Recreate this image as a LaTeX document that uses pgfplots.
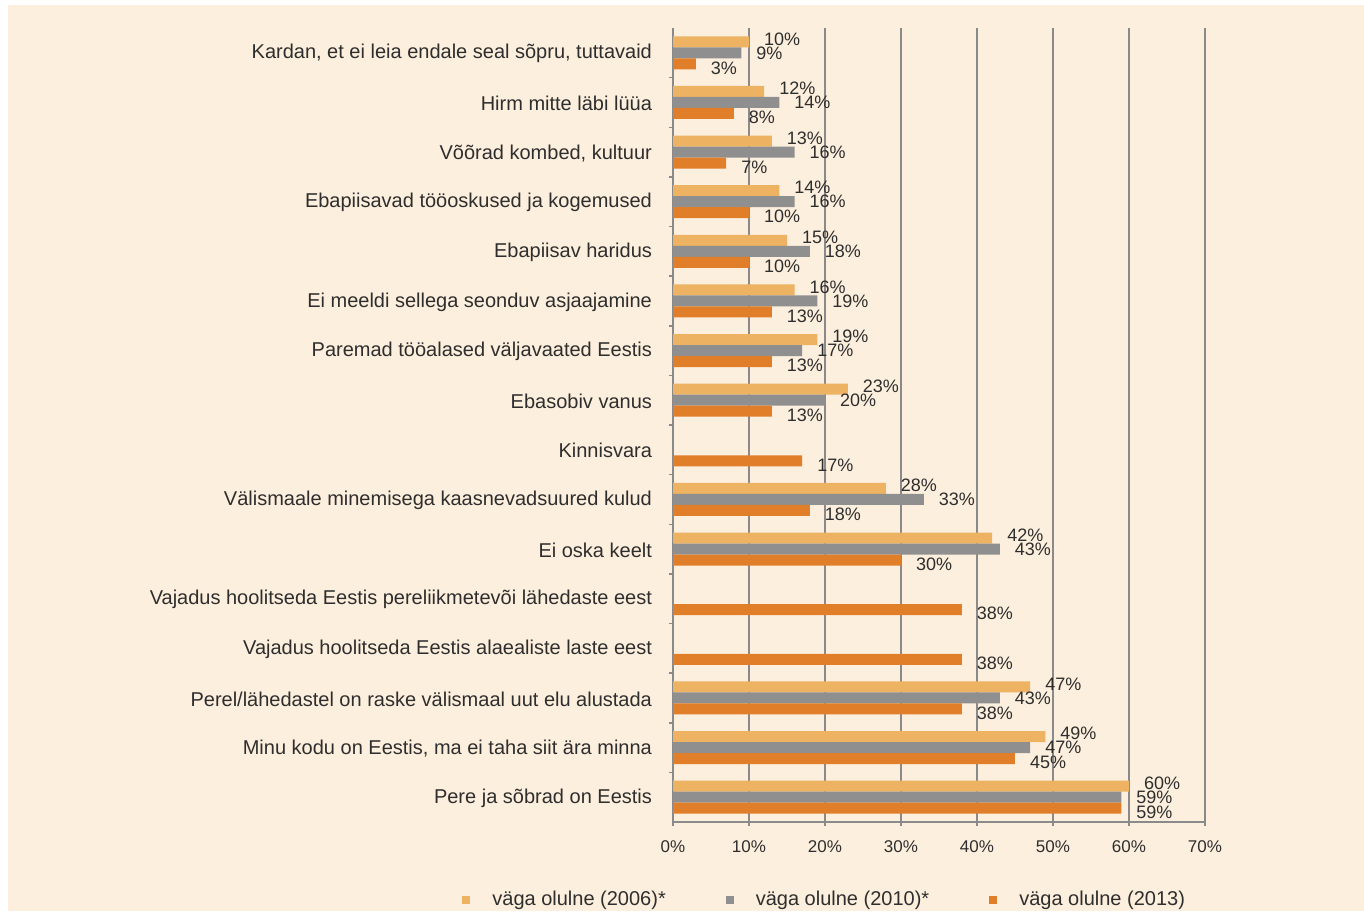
\documentclass[border=0pt]{standalone}
\usepackage{pgfplots}
\pgfplotsset{compat=1.18}
\usepackage{fontspec}
\setmainfont{Liberation Sans}
\definecolor{cream}{HTML}{FDEFDD}
\definecolor{c2006}{HTML}{EDB262}
\definecolor{c2010}{HTML}{8F8F8F}
\definecolor{c2013}{HTML}{E07E2A}
\definecolor{gridc}{HTML}{8A8A8A}
\definecolor{txt}{HTML}{2E2E2E}
\begin{document}
\begin{tikzpicture}
% picture frame, 1px = 0.5pt, origin at the bottom-left corner
\fill[white] (0pt,0pt) rectangle (682pt,455.5pt);
\fill[cream] (4pt,0pt) rectangle (682pt,453pt);
\path[use as bounding box] (0pt,0pt) rectangle (682pt,455.5pt);
\begin{axis}[
    at={(336.5pt,44.5pt)}, anchor=south west,
    scale only axis,
    width=266pt, height=397pt,
    xbar=0pt,
    bar width=5.5pt,
    y dir=reverse,
    xmin=0, xmax=70,
    ymin=-0.5, ymax=15.5,
    xtick={0,10,...,70},
    minor xtick={0,10,...,70},
    ytick={0,...,15},
    minor ytick={0.5,1.5,...,14.5},
    major tick length=0pt,
    minor tick length=2pt,
    tick align=outside,
    tick style={gridc, line width=0.75pt},
    yticklabels={
        {Kardan, et ei leia endale seal sõpru, tuttavaid},
        Hirm mitte läbi lüüa,
        {Võõrad kombed, kultuur},
        Ebapiisavad tööoskused ja kogemused,
        Ebapiisav haridus,
        Ei meeldi sellega seonduv asjaajamine,
        Paremad tööalased väljavaated Eestis,
        Ebasobiv vanus,
        Kinnisvara,
        Välismaale minemisega kaasnevadsuured kulud,
        Ei oska keelt,
        Vajadus hoolitseda Eestis pereliikmetevõi lähedaste eest,
        Vajadus hoolitseda Eestis alaealiste laste eest,
        Perel/lähedastel on raske välismaal uut elu alustada,
        {Minu kodu on Eestis, ma ei taha siit ära minna},
        Pere ja sõbrad on Eestis},
    yticklabel style={font=\fontsize{10}{11}\selectfont, text=txt, xshift=-7pt, yshift=-0.5pt},
    xticklabel={\pgfmathprintnumber{\tick}\%},
    xticklabel style={font=\fontsize{8.5}{10}\selectfont, text=txt, yshift=-6pt},
    /pgf/number format/assume math mode=true,
    xmajorgrids,
    grid style={gridc, line width=0.75pt},
    axis x line*=bottom,
    axis y line*=left,
    axis line style={gridc, line width=0.75pt},
    point meta=x,
    nodes near coords={\pgfmathprintnumber{\pgfplotspointmeta}\%},
    nodes near coords style={font=\fontsize{9}{10}\selectfont, text=txt, anchor=west, xshift=4pt},
    legend columns=3,
    legend style={at={(0.287,-0.098)}, anchor=center, draw=none, fill=none,
        font=\fontsize{10}{11}\selectfont, text=txt,
        /tikz/every odd column/.append style={column sep=9pt},
        /tikz/every even column/.append style={column sep=28pt}},
    legend image code/.code={\fill[#1,draw=none] (0pt,-2pt) rectangle (4pt,2pt);},
]
\addplot[fill=c2006, draw=none, bar shift=5.5pt,
    every node near coord/.append style={yshift=1.5pt}] coordinates {
    (10,0) (12,1) (13,2) (14,3) (15,4) (16,5) (19,6) (23,7)
    (28,9) (42,10) (47,13) (49,14) (60,15)
};
\addplot[fill=c2010, draw=none, bar shift=0pt] coordinates {
    (9,0) (14,1) (16,2) (16,3) (18,4) (19,5) (17,6) (20,7)
    (33,9) (43,10) (43,13) (47,14) (59,15)
};
\addplot[fill=c2013, draw=none, bar shift=-5.5pt,
    every node near coord/.append style={yshift=-2pt}] coordinates {
    (3,0) (8,1) (7,2) (10,3) (10,4) (13,5) (13,6) (13,7) (17,8)
    (18,9) (30,10) (38,11) (38,12) (38,13) (45,14) (59,15)
};
\legend{väga olulne (2006)*, väga olulne (2010)*, väga olulne (2013)}
\end{axis}
\end{tikzpicture}
\end{document}
